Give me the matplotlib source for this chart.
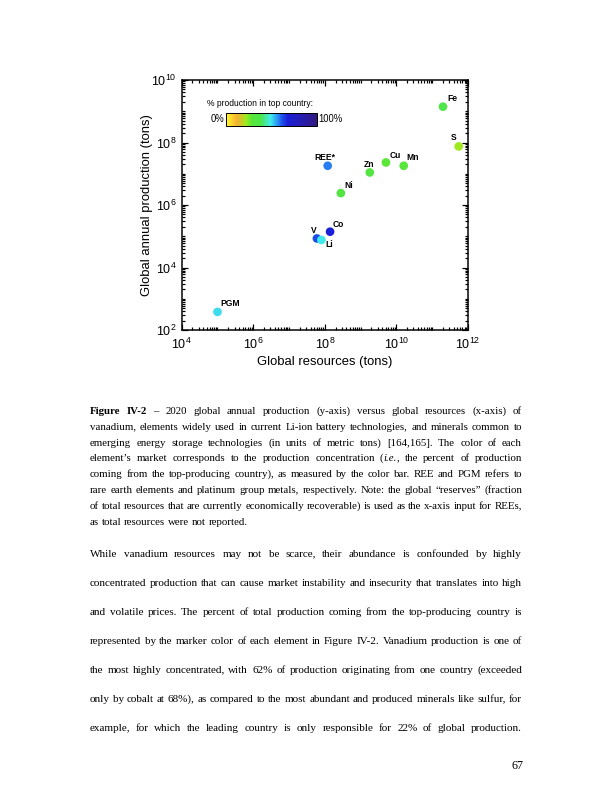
import numpy as np
import matplotlib
matplotlib.use('Agg')
import matplotlib.pyplot as plt
from matplotlib.backends.backend_agg import get_hinting_flag
from matplotlib.colors import LinearSegmentedColormap, Normalize
from matplotlib.font_manager import FontProperties
from matplotlib.ticker import LogLocator, NullFormatter

plt.rcParams['font.family'] = 'Liberation Sans'
plt.rcParams['mathtext.fontset'] = 'custom'
plt.rcParams['mathtext.rm'] = 'Liberation Sans'
plt.rcParams['mathtext.it'] = 'Liberation Sans:italic'
plt.rcParams['mathtext.bf'] = 'Liberation Sans:bold'

# data (tons)
elements = ['Fe', 'S', 'Cu', 'Mn', 'Zn', 'Ni', 'REE*', 'Co', 'V', 'Li', 'PGM']
resources = [2.0e11, 5.5e11, 5.1e9, 1.6e10, 1.8e9, 2.8e8, 1.2e8, 1.4e8, 6.0e7, 8.0e7, 1.0e5]
production = [1.4e9, 7.5e7, 2.3e7, 1.8e7, 1.1e7, 2.4e6, 1.8e7, 1.4e5, 8.5e4, 7.6e4, 3.8e2]
top_share = [37, 22, 28, 29, 33, 33, 58, 68, 62, 49, 50]   # % production in top country

# label offsets (points) for each element
label_offsets = [(9, 8), (-5, 9), (9, 7), (9, 8), (-1, 8), (8, 8), (-3, 8), (8, 7), (-3, 8), (8, -5), (13, 8)]

caption_lines = [
    "*Figure *IV-2 – 2020 global annual production (y-axis) versus global resources (x-axis) of",
    "vanadium, elements widely used in current Li-ion battery technologies, and minerals common to",
    "emerging energy storage technologies (in units of metric tons) [164,165]. The color of each",
    "element’s market corresponds to the production concentration (|_i.e.|, the percent of production",
    "coming from the top-producing country), as measured by the color bar. REE and PGM refers to",
    "rare earth elements and platinum group metals, respectively. Note: the global “reserves” (fraction",
    "of total resources that are currently economically recoverable) is used as the x-axis input for REEs,",
    "as total resources were not reported.",
]
body_lines = [
    "While vanadium resources may not be scarce, their abundance is confounded by highly",
    "concentrated production that can cause market instability and insecurity that translates into high",
    "and volatile prices. The percent of total production coming from the top-producing country is",
    "represented by the marker color of each element in Figure IV-2. Vanadium production is one of",
    "the most highly concentrated, with 62% of production originating from one country (exceeded",
    "only by cobalt at 68%), as compared to the most abundant and produced minerals like sulfur, for",
    "example, for which the leading country is only responsible for 22% of global production.",
]

W, H = 612, 792
fig = plt.figure(figsize=(8.5, 11), dpi=72)
renderer = fig.canvas.get_renderer()

# colour scale: yellow (0%) -> green -> cyan -> blue -> dark blue (100%)
cmap = LinearSegmentedColormap.from_list('share', [
    (0.00, (1.00, 1.00, 0.15)),
    (0.12, (0.97, 0.68, 0.20)),
    (0.22, (0.62, 0.92, 0.12)),
    (0.28, (0.35, 0.90, 0.22)),
    (0.38, (0.30, 0.90, 0.30)),
    (0.49, (0.25, 0.92, 0.92)),
    (0.58, (0.15, 0.50, 0.95)),
    (0.62, (0.10, 0.30, 0.90)),
    (0.68, (0.10, 0.12, 0.85)),
    (1.00, (0.20, 0.10, 0.50)),
])
norm = Normalize(0, 100)

ax = fig.add_axes([181.7 / W, 1 - 330 / H, 286.3 / W, 250 / H])
sc = ax.scatter(resources, production, c=top_share, cmap=cmap, norm=norm,
                s=75, linewidths=0, zorder=3)
for name, x, y, off in zip(elements, resources, production, label_offsets):
    ax.annotate(name, (x, y), xytext=off, textcoords='offset points',
                ha='center', va='center', fontsize=8.5, fontweight='bold')

ax.set_xscale('log')
ax.set_yscale('log')
ax.set_xlim(1e4, 1e12)
ax.set_ylim(1e2, 1e10)
ax.set_xticks([1e4, 1e6, 1e8, 1e10, 1e12])
ax.set_yticks([1e2, 1e4, 1e6, 1e8, 1e10])
for axis in (ax.xaxis, ax.yaxis):
    axis.set_minor_locator(LogLocator(base=10, subs=np.arange(1, 10), numticks=100))
    axis.set_minor_formatter(NullFormatter())
ax.tick_params(which='both', direction='in', top=True, right=True, width=1.2, labelsize=12.5)
ax.tick_params(which='major', length=6, pad=5)
ax.tick_params(axis='x', which='major', pad=7)
ax.tick_params(which='minor', length=3)
for sp in ax.spines.values():
    sp.set_linewidth(1.5)
ax.set_xlabel('Global resources (tons)', fontsize=13, labelpad=4)
ax.set_ylabel('Global annual production (tons)', fontsize=13)
ax.yaxis.set_label_coords(-0.10, 0.5)

# inset colour bar
cax = fig.add_axes([226 / W, 1 - 126 / H, 91 / W, 13 / H])
cb = fig.colorbar(sc, cax=cax, orientation='horizontal')
cb.set_ticks([])
cb.outline.set_linewidth(1.0)
fig.text(207 / W, 1 - 104 / H, '% production in top country:', fontsize=8.5, va='center')
fig.text(224 / W, 1 - 119 / H, '0%', fontsize=9.5, va='center', ha='right')
fig.text(318 / W, 1 - 119 / H, '100%', fontsize=9.5, va='center', ha='left')


# justified page text, one text per word
X0, X1 = 90, 522
SERIF = 'Liberation Serif'


def piece(p):
    if p.startswith('*'):
        return p[1:], dict(weight='bold')
    if p.startswith('_'):
        return p[1:], dict(style='italic')
    return p, {}


def text_width(s, size, kw):
    t = fig.text(0, 0, s, fontsize=size, family=SERIF, **kw)
    w = t.get_window_extent(renderer).width
    t.remove()
    return w


def baseline_shift(s, size, kw, y):
    # Agg snaps each text bitmap to whole pixels from its own descent;
    # work out how far the drawn baseline lands from y and undo it
    font = renderer._prepare_font(FontProperties(family=SERIF, size=size, **kw))
    font.set_text(s, 0, flags=get_hinting_flag())
    h = font.get_width_height()[1]
    desc = font.get_descent()
    return round(y + desc / 64) - y - h // 64 + (h - desc) // 64


def word_width(word, size):
    return sum(text_width(s, size, kw) for s, kw in word)


def parse(line):
    return [[piece(p) for p in w.split('|')] for w in line.split(' ')]


def fit_size(lines, base):
    space = text_width('a a', base, {}) - text_width('aa', base, {})
    widest = 0
    for line in lines:
        words = parse(line)
        widest = max(widest, sum(word_width(w, base) for w in words) + space * (len(words) - 1))
    return min(base, base * (X1 - X0) / widest)


def draw_line(line, y, size, justify=True):
    words = parse(line)
    widths = [word_width(w, size) for w in words]
    if justify:
        gap = (X1 - X0 - sum(widths)) / (len(words) - 1)
    else:
        gap = text_width('a a', size, {}) - text_width('aa', size, {})
    x = X0
    for w in words:
        for s, kw in w:
            yy = y - baseline_shift(s, size, kw, y)
            t = fig.text(x / W, 1 - yy / H, s, fontsize=size, family=SERIF,
                         va='baseline', **kw)
            x += t.get_window_extent(renderer).width
        x += gap


cap_size = fit_size(caption_lines[:-1], 11)
body_size = fit_size(body_lines, 12)
for i, line in enumerate(caption_lines):
    draw_line(line, round(414 + i * 15.8), cap_size, justify=i < len(caption_lines) - 1)
for i, line in enumerate(body_lines):
    draw_line(line, 557 + i * 29, body_size)
fig.text(517 / W, 1 - 769 / H, '67', fontsize=12, family=SERIF,
         ha='center', va='baseline')

fig.savefig('out.png', dpi=72)
